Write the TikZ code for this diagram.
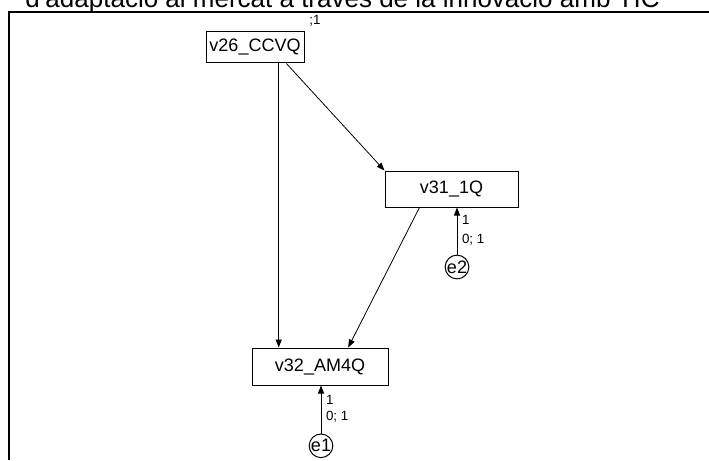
\documentclass[tikz,border=0pt]{standalone}
\usepackage{fontspec}
\setmainfont{Liberation Sans}
\usepackage{tikz}
\usetikzlibrary{arrows.meta,positioning,calc}
\tikzset{
  obs/.style={draw,line width=0.75pt,font=\fontsize{13.5}{16}\selectfont,inner sep=0pt},
  err/.style={draw,circle,line width=0.75pt,font=\fontsize{13.5}{16}\selectfont,minimum size=17.5pt,inner sep=0pt},
  reg/.style={-{Triangle[length=6pt,width=4.5pt]},line width=0.6pt},
  est/.style={font=\fontsize{10}{12}\selectfont,inner sep=1.5pt},
}

\begin{document}
\begin{tikzpicture}[x=0.75pt,y=-0.75pt,
  frame/.style={line width=1.5pt},
  title/.style={font=\fontsize{19.5}{22}\selectfont,inner sep=0pt,anchor=base west}]
  \useasboundingbox (0,0) rectangle (709,460);
  \begin{scope}
    \clip (0,0) rectangle (709,460);
    \node[title] (head) at (25,8) {d'adaptació al mercat a través de la innovació amb TIC};
  \end{scope}
  \draw[frame] (9,460) |- (709,12);
  \node[obs,minimum width=73.5pt,minimum height=23.25pt] (ccvq) at (255,47.5) {v26\_CCVQ};
  \node[obs,minimum width=99.75pt,minimum height=27pt] (iq) at (451.5,189) {v31\_1Q};
  \node[obs,minimum width=102pt,minimum height=27.75pt] (am4q) at (320,366.5) {v32\_AM4Q};
  \node[est,above right=2pt and 2pt of ccvq.north east] (vccvq) {;1};
  \node[err] (e2) at (457,267) {e2};
  \node[err,below=36pt of am4q.south,anchor=north,xshift=0.75pt] (e1) {e1};
  \draw[reg] (ccvq.-34) -- (ccvq.-34 |- am4q.north);
  \draw[reg] (ccvq.-27) -- (iq.north west);
  \draw[reg] (iq.-150) -- (am4q.34);
  \draw[reg] (e2) -- (e2 |- iq.south) node[est,right,pos=.74,xshift=2pt] {1} node[est,right,pos=.32,xshift=2pt] {0; 1};
  \draw[reg] (e1) -- (e1 |- am4q.south) node[est,right,pos=.69,xshift=2pt] {1} node[est,right,pos=.34,xshift=2pt] {0; 1};
\end{tikzpicture}
\end{document}
